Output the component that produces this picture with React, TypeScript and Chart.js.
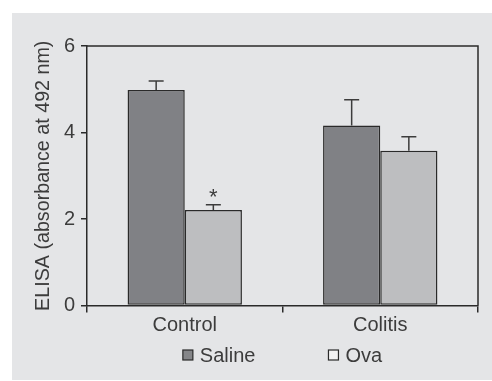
import React, { useEffect, useRef } from 'react';
import { Chart, registerables } from 'chart.js';

Chart.register(...registerables);

const categories = ['Control', 'Colitis'];
const seriesNames = ['Saline', 'Ova'];
const salineValues = [4.98, 4.16];
const ovaValues = [2.21, 3.58];
const salineErrors = [0.21, 0.6];
const ovaErrors = [0.12, 0.32];
const salineMarks = ['', ''];
const ovaMarks = ['*', ''];
const yTicks = [0, 2, 4, 6];
const yTitle = 'ELISA (absorbance at 492 nm)';

const FONT = '"Liberation Sans", Arial, Helvetica, sans-serif';
const TEXT = '#3c3c3c';
const LINE = '#2a2a2a';
const BG = '#e4e5e7';
const SALINE_FILL = '#808185';
const OVA_FILL = '#bdbec0';
const LEGEND_FILLS = ['#858689', '#f2f2f2'];

const errorsBySeries = [salineErrors, ovaErrors];
const marksBySeries = [salineMarks, ovaMarks];

const decorPlugin = {
  id: 'decor',
  beforeDraw(chart: any) {
    const { ctx } = chart;
    ctx.save();
    ctx.fillStyle = BG;
    ctx.fillRect(12, 13, chart.width - 12, chart.height - 14);
    ctx.restore();
  },
  afterDatasetsDraw(chart: any) {
    const { ctx, chartArea } = chart;
    const yScale = chart.scales.y;
    ctx.save();
    chart.data.datasets.forEach((ds: any, di: number) => {
      const meta = chart.getDatasetMeta(di);
      meta.data.forEach((bar: any, i: number) => {
        const v = ds.data[i];
        const err = errorsBySeries[di][i];
        const yTop = yScale.getPixelForValue(v);
        const yErr = yScale.getPixelForValue(v + err);
        ctx.strokeStyle = '#3c3c3c';
        ctx.lineWidth = 1.5;
        ctx.beginPath();
        ctx.moveTo(bar.x, yTop);
        ctx.lineTo(bar.x, yErr);
        ctx.moveTo(bar.x - 7.5, yErr);
        ctx.lineTo(bar.x + 7.5, yErr);
        ctx.stroke();
        const mark = marksBySeries[di][i];
        if (mark) {
          ctx.fillStyle = TEXT;
          ctx.font = `22px ${FONT}`;
          ctx.textAlign = 'center';
          ctx.textBaseline = 'alphabetic';
          ctx.fillText(mark, bar.x, yErr - 1);
        }
      });
    });
    ctx.strokeStyle = LINE;
    ctx.lineWidth = 1.5;
    ctx.beginPath();
    ctx.moveTo(chartArea.left, chartArea.top);
    ctx.lineTo(chartArea.right, chartArea.top);
    ctx.lineTo(chartArea.right, chartArea.bottom);
    ctx.stroke();
    ctx.restore();
  },
  afterDraw(chart: any) {
    const { ctx, chartArea } = chart;
    ctx.save();
    ctx.font = `20px ${FONT}`;
    const box = 10;
    const gap = 7;
    const spacing = 73;
    const widths = seriesNames.map((n) => box + gap + ctx.measureText(n).width);
    const total = widths.reduce((a, b) => a + b, 0) + spacing * (seriesNames.length - 1);
    let x = (chartArea.left + chartArea.right) / 2 - total / 2;
    const cy = 355;
    seriesNames.forEach((n, i) => {
      ctx.fillStyle = LEGEND_FILLS[i];
      ctx.fillRect(x, cy - box / 2, box, box);
      ctx.strokeStyle = LINE;
      ctx.lineWidth = 1.2;
      ctx.strokeRect(x, cy - box / 2, box, box);
      ctx.fillStyle = TEXT;
      ctx.textAlign = 'left';
      ctx.textBaseline = 'middle';
      ctx.fillText(n, x + box + gap, cy + 1);
      x += widths[i] + spacing;
    });
    ctx.restore();
  },
};

export default function App() {
  const ref = useRef<HTMLCanvasElement | null>(null);
  useEffect(() => {
    if (!ref.current) return;
    const chart = new Chart(ref.current, {
      type: 'bar',
      data: {
        labels: categories,
        datasets: [
          {
            label: seriesNames[0],
            data: salineValues,
            backgroundColor: SALINE_FILL,
            borderColor: LINE,
            borderWidth: 1.5,
            borderSkipped: false,
            categoryPercentage: 0.585,
            barPercentage: 1,
          },
          {
            label: seriesNames[1],
            data: ovaValues,
            backgroundColor: OVA_FILL,
            borderColor: LINE,
            borderWidth: 1.5,
            borderSkipped: false,
            categoryPercentage: 0.585,
            barPercentage: 1,
          },
        ],
      },
      options: {
        responsive: false,
        animation: false,
        devicePixelRatio: 1,
        layout: { padding: { left: 30, right: 14, top: 46, bottom: 42.5 } },
        plugins: {
          legend: { display: false },
          tooltip: { enabled: false },
        },
        scales: {
          x: {
            grid: {
              offset: true,
              drawOnChartArea: false,
              drawTicks: true,
              tickLength: 7,
              color: LINE,
              lineWidth: 1.5,
            },
            border: { display: true, color: LINE, width: 1.5 },
            ticks: {
              color: TEXT,
              font: { family: FONT, size: 20 },
              padding: 1,
            },
            afterFit(scale: any) {
              scale.height = 33;
            },
          },
          y: {
            min: 0,
            max: 6,
            afterBuildTicks(scale: any) {
              scale.ticks = yTicks.map((v) => ({ value: v }));
            },
            grid: {
              drawOnChartArea: false,
              drawTicks: true,
              tickLength: 6,
              color: LINE,
              lineWidth: 1.5,
            },
            border: { display: true, color: LINE, width: 1.5 },
            ticks: {
              color: TEXT,
              font: { family: FONT, size: 20 },
              padding: 6,
            },
            title: {
              display: true,
              text: yTitle,
              color: TEXT,
              font: { family: FONT, size: 19.7 },
              padding: { top: 2, bottom: 0 },
            },
            afterFit(scale: any) {
              scale.width = 57;
            },
          },
        },
      },
      plugins: [decorPlugin],
    } as any);
    return () => chart.destroy();
  }, []);
  return (
    <div style={{ position: 'fixed', left: 0, top: 0, width: 492, height: 381, background: '#fff' }}>
      <canvas ref={ref} width={492} height={381} style={{ display: 'block' }} />
    </div>
  );
}
